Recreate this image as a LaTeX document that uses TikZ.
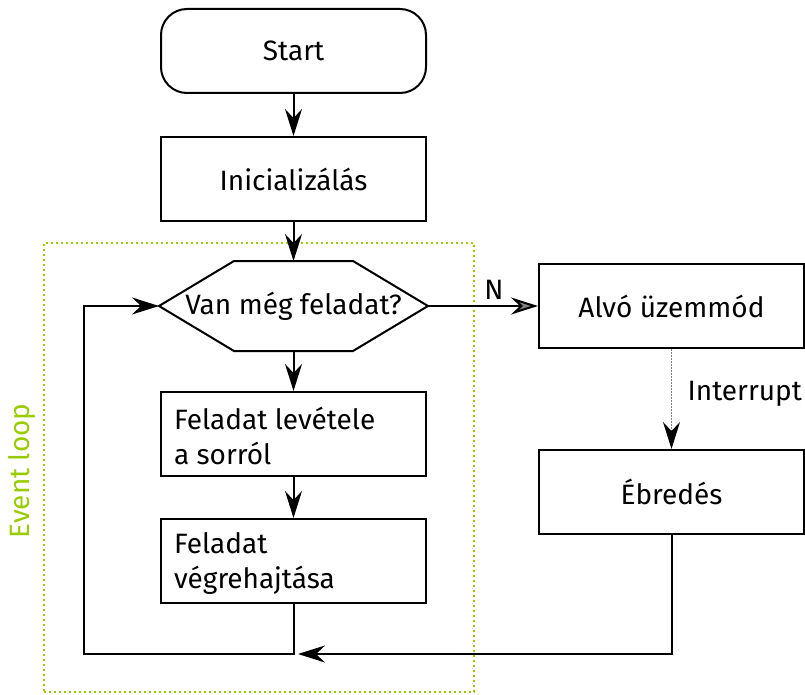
\documentclass[tikz,border=0pt]{standalone}
\usepackage{fontspec}
\setmainfont{Fira Sans}
\usetikzlibrary{arrows.meta}
\definecolor{loopgreen}{RGB}{153,204,0}
\begin{document}
\begin{tikzpicture}[x=1pt,y=-1pt,
  font=\fontsize{28}{35}\selectfont,
  line width=2pt,
  box/.style={draw, minimum width=265pt, minimum height=84pt, inner sep=0pt},
  multi/.style={anchor=west, align=left, inner sep=0pt},
  arr/.style={-{Stealth[length=27pt,width=17pt,inset=9pt]}},
  garr/.style={-{Stealth[length=27pt,width=17pt,inset=9pt,fill=gray]}},
]
\useasboundingbox (0,0) rectangle (805,695);
% event loop frame
\node (ev) [draw=loopgreen, dash pattern=on 2pt off 3pt, line width=2pt, minimum width=430pt, minimum height=449pt, inner sep=0pt] at (259,467.5) {};
\node (evl) [rotate=90, text=loopgreen] at (22,471) {Event loop};
% nodes
\node (st) [box, rounded corners=26pt] at (293.5,51) {Start};
\node (in) [box] at (293.5,179) {Inicializálás};
\node (hx) [minimum width=267pt, minimum height=88pt, inner sep=0pt] at (293.5,306) {Van még feladat?};
\draw (hx.west) -- ([xshift=75pt]hx.north west) -- ([xshift=-75pt]hx.north east) -- (hx.east)
  -- ([xshift=-75pt]hx.south east) -- ([xshift=75pt]hx.south west) -- cycle;
\node (f1) [box] at (293.5,434) {};
\node (f1t) [multi] at (173,436) {Feladat levétele\\a sorról};
\node (f2) [box] at (293.5,561) {};
\node (f2t) [multi] at (173,563) {Feladat\\végrehajtása};
\node (al) [box] at (671.5,306) {Alvó üzemmód};
\node (eb) [box] at (671.5,492) {Ébredés};
% connectors
\draw[arr] (st) -- (in);
\draw[arr] (in) -- (hx.north);
\draw[arr] (hx.south) -- (f1);
\draw[arr] (f1) -- (f2);
\draw[garr] (hx.east) -- (al.west) node (nl) [pos=0.6, above=4pt, inner sep=2pt] {N};
\draw[gray, dash pattern=on 1.5pt off 1.5pt, line width=1.5pt, -{Stealth[length=27pt,width=17pt,inset=9pt,color=black]}] (al) -- (eb)
  node (il) [pos=0.45, right=12pt, text=black] {Interrupt};
\coordinate (lb) at (84,654);
\draw[arr] (f2.south) |- (lb) |- (hx.west);
\coordinate (jn) at (298,654);
\draw[arr] (eb.south) |- (jn);
\end{tikzpicture}
\end{document}
